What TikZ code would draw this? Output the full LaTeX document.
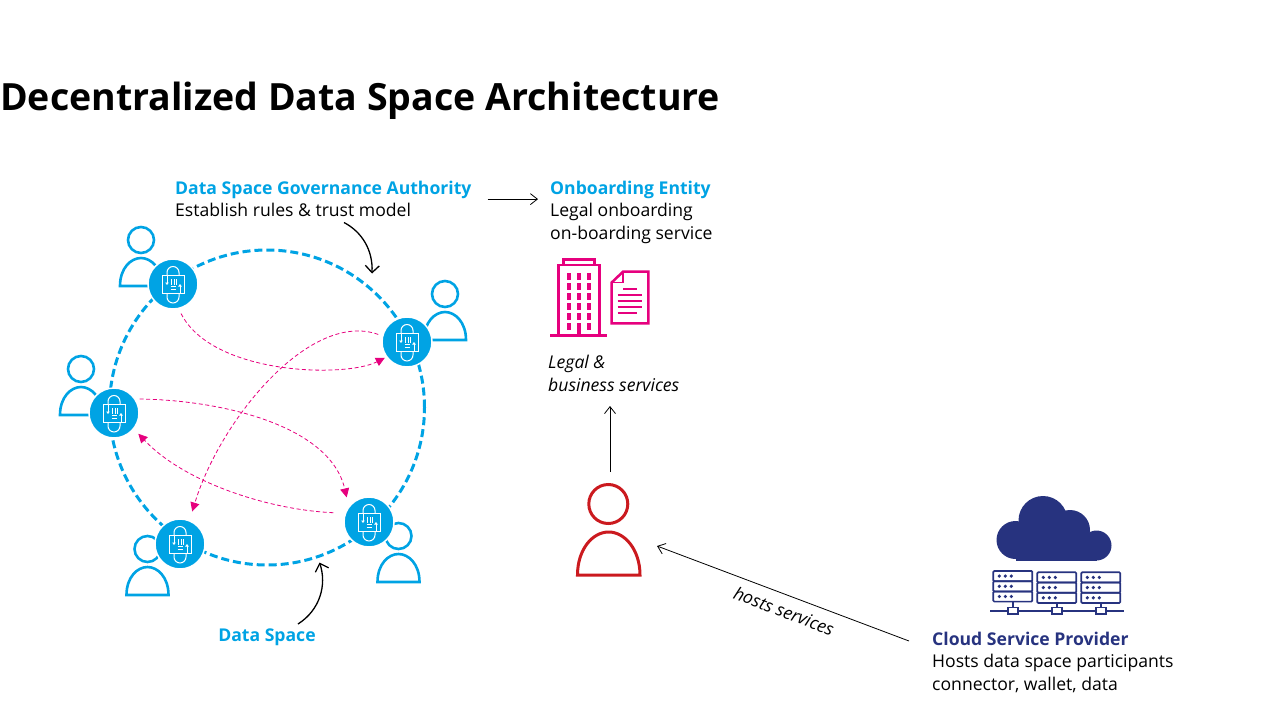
\documentclass[tikz,border=0pt]{standalone}
\usepackage{fontspec}
\setmainfont{Open Sans}
\usetikzlibrary{arrows.meta}
\definecolor{dsblue}{HTML}{00A3E4}
\definecolor{dspink}{HTML}{E6007E}
\definecolor{dsred}{HTML}{CB1A1F}
\definecolor{dsnavy}{HTML}{27337F}
\tikzset{
	txt/.style={inner sep=0pt,anchor=north west,align=left,font=\fontsize{17.6}{22.3}\selectfont},
	hd/.style={font=\fontsize{17.6}{22.3}\selectfont\bfseries},
	lock/.style={circle,fill=dsblue,draw=white,line width=1.5pt,minimum size=50pt,inner sep=0pt},
	flow/.style={draw=dspink,line width=0.8pt,dash pattern=on 4pt off 2.6pt,-{Triangle[length=9pt,width=9pt]}},
	thin arrow/.style={draw=black,line width=0.8pt,-{Straight Barb[length=7pt,width=11pt]}},
	bend arrow/.style={draw=black,line width=1.3pt,-{Straight Barb[length=7pt,width=14pt]}},
	person/.pic={
		\draw[dsblue,line width=2.6pt] (0,0) circle (13pt);
		\draw[dsblue,line width=2.6pt] (-21,46) .. controls (-21,28) and (-10,18) .. (0,18) .. controls (10,18) and (21,28) .. (21,46) -- cycle;
	},
	lockicon/.pic={
		\draw[white,line width=1pt] (-11,-8.5) rectangle (11.5,9);
		\draw[white,line width=1pt] (-6,-8.5) -- (-6,-11.5) arc (180:360:6) -- (6,-8.5);
		\draw[white,line width=1pt] (-6,9) -- (-6,13) arc (180:0:6) -- (6,9);
		\draw[white,line width=1pt,-{Triangle[length=2.5pt,width=3.5pt]}] (-6,-8.5) -- (-6,1);
		\draw[white,line width=1pt,-{Triangle[length=2.5pt,width=3.5pt]}] (7,9) -- (7,0);
		\foreach \bx in {-1.5,1,3.5} \draw[white,line width=0.8pt] (\bx,-5) -- (\bx,1);
		\foreach \by in {2.7,5} \draw[white,line width=0.8pt] (-2.5,\by) -- (3,\by);
	},
	rack/.pic={
		\foreach \ry in {0,10.2,20.4} {
			\draw[dsnavy,line width=1.7pt,rounded corners=1pt] (0,\ry) rectangle (39,\ry+10.2);
			\foreach \dx in {6,12,18} \fill[dsnavy] (\dx,\ry+5.1) circle (1.8pt);
		}
	}
}
\begin{document}
\begin{tikzpicture}[x=1pt,y=-1pt]
	\useasboundingbox (0,0) rectangle (1280,720);

	\node[inner sep=0pt,anchor=base west,font=\fontsize{37.5}{40}\selectfont\bfseries] (title) at (0,110.5) {Decentralized Data Space Architecture};

	% ring and participants
	\node[circle,draw=dsblue,line width=3pt,dash pattern=on 8pt off 4pt,minimum size=315pt,inner sep=0pt] (ring) at (267,407.5) {};

	\pic at (141,240) {person};
	\pic at (445,294) {person};
	\pic at (81,369) {person};
	\pic at (147.5,549) {person};
	\pic at (398.5,536) {person};

	\node[lock] (lockA) at (173,284) {};
	\node[lock] (lockB) at (407,342) {};
	\node[lock] (lockC) at (114,413) {};
	\node[lock] (lockD) at (180,544) {};
	\node[lock] (lockE) at (369,522) {};
	\pic at (lockA) {lockicon};
	\pic at (lockB) {lockicon};
	\pic at (lockC) {lockicon};
	\pic at (lockD) {lockicon};
	\pic at (lockE) {lockicon};

	% exchanges between participants
	\draw[flow,shorten <=5pt,shorten >=1.5pt] (lockA.-77) .. controls (212,375) and (345,378) .. (lockB.216);
	\draw[flow,shorten <=4pt,shorten >=9pt] (lockB.166) .. controls (310,310) and (220,420) .. (lockD.68);
	\draw[flow,shorten <=4pt,shorten >=9pt] (lockC.33) .. controls (220,400) and (330,425) .. (lockE.142);
	\draw[flow,shorten <=11.5pt,shorten >=6.3pt] (lockE.160) .. controls (270,510) and (185,483) .. (lockC.-39);

	% texts
	\node[txt] (govText) at (175,181) {{\color{dsblue}\bfseries Data Space Governance Authority}\\Establish rules \& trust model};
	\node[txt] (onbText) at (550,181) {{\color{dsblue}\bfseries Onboarding Entity}\\Legal onboarding\\on-boarding service};
	\node[txt,font=\fontsize{17.6}{23}\selectfont\itshape] (legalText) at (548,355) {Legal \&\\business services};
	\node[hd,text=dsblue,inner sep=0pt] (spaceText) at (267,637.5) {Data Space};
	\node[txt] (cspText) at (932,632) {{\color{dsnavy}\bfseries Cloud Service Provider}\\Hosts data space participants\\connector, wallet, data};

	\coordinate (spaceStart) at (298,624);
	\coordinate (spaceTip) at (319.5,562.5);
	\coordinate (ruleTip) at (372,273.5);
	\coordinate (ruleStart) at (344,222.5);
	\coordinate (legalTip) at (610,406);
	\coordinate (redTop) at (610,472);
	\coordinate (redSide) at (657,546);
	\coordinate (cspSide) at (909,641);

	\draw[bend arrow] (ruleStart) .. controls (362,232) and (373,250) .. (ruleTip);
	\draw[bend arrow] (spaceStart) .. controls (320,610) and (327,585) .. (spaceTip);
	\draw[thin arrow,shorten <=16pt,shorten >=12pt] (govText.east) -- (govText.east -| onbText.west);
	\draw[thin arrow] (redTop) -- (legalTip);
	\draw[thin arrow] (cspSide) -- (redSide);
	\node[rotate=-21,inner sep=0pt,font=\fontsize{17.6}{20}\selectfont\itshape] (hostsText) at (784,611) {hosts services};

	% red person
	\draw[dsred,line width=3pt] (608.3,504) circle (19.5pt);
	\draw[dsred,line width=3pt] (577.5,575) .. controls (577.5,550) and (592,532) .. (608.7,532) .. controls (625,532) and (640,550) .. (640,575) -- cycle;

	% building and document
	\draw[dspink,line width=2.5pt] (550,335.7) -- (607.3,335.7);
	\draw[dspink,line width=2.5pt] (558.3,335.7) -- (558.3,265) -- (599.3,265) -- (599.3,335.7);
	\draw[dspink,line width=2.5pt] (563.3,265) -- (563.3,259.3) -- (594.3,259.3) -- (594.3,265);
	\foreach \wx in {569,579,589}
		\foreach \wy in {276.7,286.7,296.7,306.7,316.7}
			\fill[dspink] (\wx-2.4,\wy-3.3) rectangle (\wx+2.4,\wy+3.3);
	\fill[dspink] (566.6,323.4) rectangle (571.4,330);
	\fill[dspink] (586.6,323.4) rectangle (591.4,330);
	\fill[dspink] (576.6,323.4) rectangle (581.4,335.7);
	\draw[dspink,line width=2.5pt,line join=miter] (623,271.7) -- (648.3,271.7) -- (648.3,323.3) -- (611.7,323.3) -- (611.7,282.5) -- cycle;
	\draw[dspink,line width=1.8pt] (623,271.7) -- (623,282.5) -- (611.7,282.5);
	\draw[dspink,line width=2.2pt] (623.3,289.3) -- (636.7,289.3);
	\foreach \ly in {295,301,307.3}
		\draw[dspink,line width=2.2pt] (617.7,\ly) -- (641.7,\ly);
	\draw[dspink,line width=2.2pt] (617.7,313.3) -- (636.7,313.3);

	% cloud
	\fill[dsnavy] (1015.5,540) circle (19pt);
	\fill[dsnavy] (1043,520.5) circle (24.5pt);
	\fill[dsnavy] (1070,530) circle (20pt);
	\fill[dsnavy] (1096.5,545.5) circle (15pt);
	\fill[dsnavy] (1015.5,540) rectangle (1096.5,560.5);

	% servers
	\pic at (993.3,571) {rack};
	\pic at (1037.3,572.3) {rack};
	\pic at (1081.3,572.3) {rack};
	\draw[dsnavy,line width=1.8pt] (990,610.7) -- (1124,610.7);
	\foreach \sx/\st in {1013/601.6,1057/603,1100.7/603} {
		\draw[dsnavy,line width=1.6pt] (\sx,\st) -- (\sx,608);
		\draw[dsnavy,line width=1.6pt,fill=white] (\sx-5,607.5) rectangle (\sx+5,613.7);
	}
\end{tikzpicture}
\end{document}
